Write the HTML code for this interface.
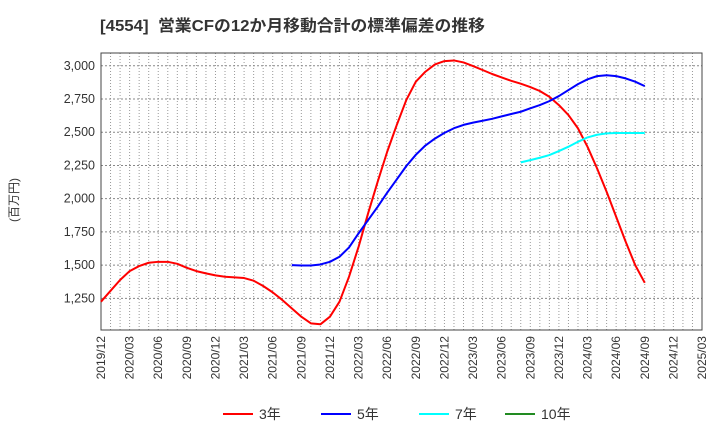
<!DOCTYPE html>
<html><head><meta charset="utf-8"><style>
body{margin:0;background:#fff;}
svg{display:block;font-family:"Liberation Sans","Noto Sans CJK JP",sans-serif;}
</style></head><body>
<svg id="chart" width="720" height="440">
<text x="100" y="31" font-size="16" font-weight="bold" fill="#333" xml:space="preserve" textLength="385" lengthAdjust="spacingAndGlyphs">[4554]  営業CFの12か月移動合計の標準偏差の推移</text>
<text transform="translate(18,200) rotate(-90)" text-anchor="middle" font-size="12" fill="#333">(百万円)</text>
<g id="grid"></g><g id="axes"></g><g id="series"></g><g id="legend"></g>
</svg>
<script>
const xLabels=["2019/12","2020/03","2020/06","2020/09","2020/12","2021/03","2021/06","2021/09","2021/12","2022/03","2022/06","2022/09","2022/12","2023/03","2023/06","2023/09","2023/12","2024/03","2024/06","2024/09","2024/12","2025/03"];
const yTicks=[1250,1500,1750,2000,2250,2500,2750,3000];
const s3=[1225,1307,1388,1455,1493,1518,1525,1525,1510,1480,1455,1438,1423,1413,1408,1403,1383,1343,1295,1238,1175,1112,1062,1055,1112,1225,1413,1638,1890,2127,2353,2554,2742,2880,2955,3010,3035,3040,3025,2998,2968,2938,2912,2887,2865,2840,2810,2767,2704,2629,2529,2390,2228,2052,1864,1676,1500,1367];
const s5Start=20;
const s5=[1500,1497,1497,1505,1525,1563,1633,1739,1839,1939,2045,2145,2245,2330,2400,2452,2495,2530,2555,2572,2586,2601,2619,2637,2654,2680,2704,2734,2772,2817,2862,2898,2922,2929,2922,2905,2880,2847];
const s7Start=44;
const s7=[2273,2290,2308,2328,2358,2391,2428,2461,2481,2491,2494,2494,2494,2494];
const L=101,R=702,T=53,B=330,YMIN=1012,YMAX=3096,NM=63;
const NS="http://www.w3.org/2000/svg";
const xs=i=>L+(R-L)*i/NM;
const ys=v=>B-(v-YMIN)/(YMAX-YMIN)*(B-T);
function mk(t,a,p){const e=document.createElementNS(NS,t);for(const k in a)e.setAttribute(k,a[k]);p.appendChild(e);return e;}
const grid=document.getElementById('grid'),axes=document.getElementById('axes'),ser=document.getElementById('series'),leg=document.getElementById('legend');
for(let m=1;m<NM;m++){const g=mk('line',{x1:xs(m),x2:xs(m),y1:T,y2:B,stroke:'#999','stroke-dasharray':'1,2','stroke-width':1},grid);

}
yTicks.forEach(v=>{const g=mk('line',{x1:L,x2:R,y1:ys(v),y2:ys(v),stroke:'#888','stroke-dasharray':'2,2','stroke-width':1},grid);


const t=mk('text',{x:L-6,y:ys(v)+4,'text-anchor':'end','font-size':12.5,fill:'#333'},axes);


t.textContent=v.toLocaleString('en-US');});
xLabels.forEach((lb,k)=>{const x=xs(k*3);const t=mk('text',{transform:`translate(${x+4},${B+6}) rotate(-90)`,'text-anchor':'end','font-size':12,fill:'#333'},axes);


t.textContent=lb;});
const frame=mk('rect',{x:L,y:T,width:R-L,height:B-T,fill:'none',stroke:'#444','stroke-width':1},axes);


function line(arr,start,col,name){const p=mk('polyline',{points:arr.map((v,i)=>xs(start+i)+','+ys(v)).join(' '),fill:'none',stroke:col,'stroke-width':2,'stroke-linejoin':'round'},ser);

}
line(s3,0,'#f00','series-3yr');
line(s5,s5Start,'#00f','series-5yr');
line(s7,s7Start,'#0ff','series-7yr');
[['3年','#f00',223],['5年','#00f',321],['7年','#0ff',419],['10年','#228b22',505]].forEach(([n,c,x])=>{
const l=mk('line',{x1:x,x2:x+30,y1:414,y2:414,stroke:c,'stroke-width':2},leg);


const t=mk('text',{x:x+36,y:419,'font-size':14,fill:'#333'},leg);


t.textContent=n;});
</script>
</body></html>
